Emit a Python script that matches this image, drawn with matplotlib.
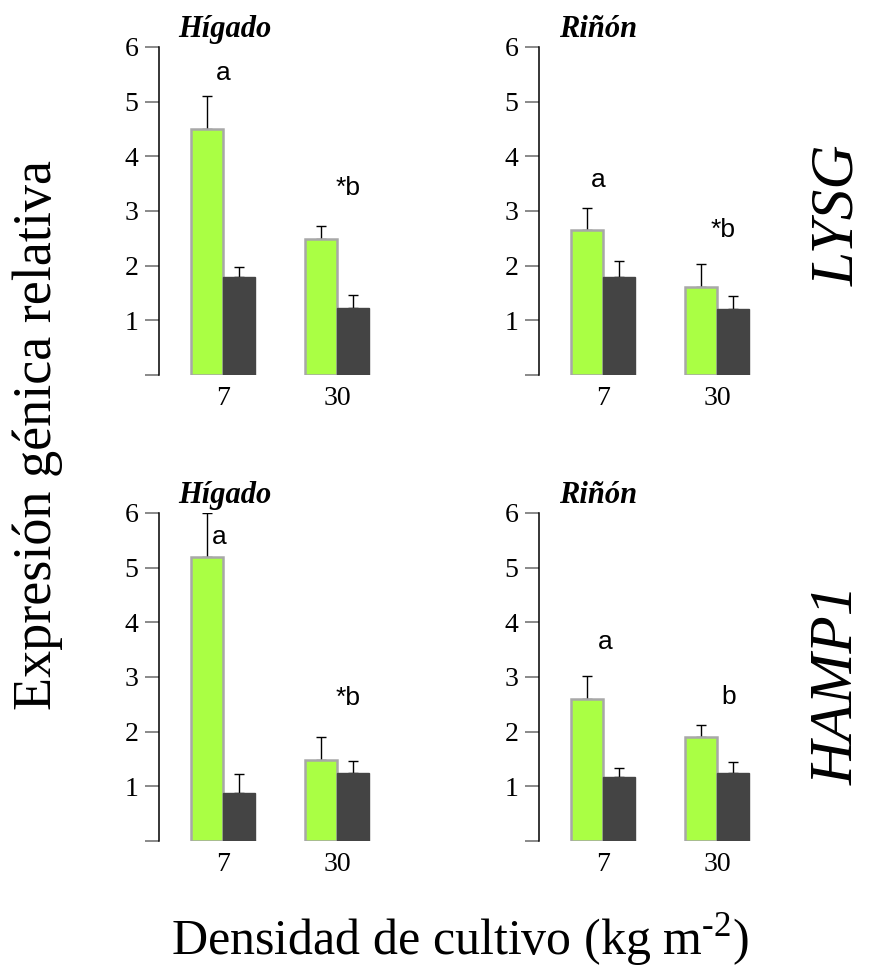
import numpy as np
import matplotlib.pyplot as plt

plt.rcParams["mathtext.fontset"] = "custom"
plt.rcParams["mathtext.rm"] = "Liberation Serif"

densities = ["7", "30"]
genes = ["LYSG", "HAMP1"]
tissues = ["Hígado", "Riñón"]

# values read per panel: (gene, tissue) -> [density 7, density 30]
green_vals = {("LYSG", "Hígado"): [4.50, 2.48], ("LYSG", "Riñón"): [2.66, 1.61],
              ("HAMP1", "Hígado"): [5.20, 1.48], ("HAMP1", "Riñón"): [2.59, 1.90]}
green_err = {("LYSG", "Hígado"): [0.60, 0.24], ("LYSG", "Riñón"): [0.40, 0.42],
             ("HAMP1", "Hígado"): [0.80, 0.42], ("HAMP1", "Riñón"): [0.43, 0.22]}
dark_vals = {("LYSG", "Hígado"): [1.79, 1.23], ("LYSG", "Riñón"): [1.79, 1.21],
             ("HAMP1", "Hígado"): [0.88, 1.24], ("HAMP1", "Riñón"): [1.17, 1.24]}
dark_err = {("LYSG", "Hígado"): [0.18, 0.23], ("LYSG", "Riñón"): [0.29, 0.24],
            ("HAMP1", "Hígado"): [0.34, 0.22], ("HAMP1", "Riñón"): [0.16, 0.20]}
# significance letters: (text, x, y)
letters = {("LYSG", "Hígado"): [("a", 0.0, 5.52), ("*b", 1.1, 3.42)],
           ("LYSG", "Riñón"): [("a", -0.04, 3.56), ("*b", 1.05, 2.65)],
           ("HAMP1", "Hígado"): [("a", -0.03, 5.56), ("*b", 1.1, 2.61)],
           ("HAMP1", "Riñón"): [("a", 0.02, 3.64), ("b", 1.1, 2.63)]}

W, H = 878, 975
fig = plt.figure(figsize=(W / 100, H / 100), dpi=100)

serif = "Liberation Serif"
green = "#aaff44"
dark = "#444444"
x = np.arange(len(densities))
bw = 0.28

lefts = [159, 539]
tops = [47, 513]
title_x = [0.30, 0.27]
for gi, gene in enumerate(genes):
    for ti, tissue in enumerate(tissues):
        key = (gene, tissue)
        l = lefts[ti] / W
        b = 1 - (tops[gi] + 328) / H
        ax = fig.add_axes([l, b, 218 / W, 328 / H])
        ax.bar(x - bw / 2, green_vals[key], bw, color=green, edgecolor="#a8a8a8",
               linewidth=1.8, zorder=2)
        ax.bar(x + bw / 2, dark_vals[key], bw, color=dark, edgecolor=dark,
               linewidth=1, zorder=2)
        ax.errorbar(x - bw / 2, green_vals[key], yerr=[np.zeros(2), green_err[key]],
                    fmt="none", ecolor="black", elinewidth=1, capsize=3.5, zorder=1)
        ax.errorbar(x + bw / 2, dark_vals[key], yerr=[np.zeros(2), dark_err[key]],
                    fmt="none", ecolor="black", elinewidth=1, capsize=3.5, zorder=1)
        for txt, tx, ty in letters[key]:
            ax.text(tx, ty, txt, ha="center", va="center", fontsize=19,
                    family="Liberation Sans")
        ax.set_xlim(-0.56, 1.35)
        ax.set_ylim(0, 6)
        ax.set_yticks(range(7))
        ax.set_yticklabels([""] + [str(i) for i in range(1, 7)],
                           family=serif, fontsize=20)
        ax.set_xticks(x)
        ax.set_xticklabels(densities, family=serif, fontsize=20)
        ax.tick_params(axis="x", length=0, pad=8)
        ax.tick_params(axis="y", direction="out", length=10, width=1.3,
                       color="#808080", pad=5)
        for s in ["top", "right", "bottom"]:
            ax.spines[s].set_visible(False)
        ax.spines["left"].set_linewidth(1.1)
        ax.patch.set_visible(False)
        ax.text(title_x[ti], 1.03, tissue, transform=ax.transAxes,
                ha="center", va="baseline",
                family=serif, style="italic", weight="bold", fontsize=22)

fig.text(38 / W, 1 - 435 / H, "Expresión génica relativa", rotation=90,
         ha="center", va="center", family=serif, fontsize=39)
fig.text(460 / W, 1 - 940 / H, r"Densidad de cultivo (kg m$^{\text{-2}}$)",
         ha="center", va="center", family=serif, fontsize=36)
fig.text(838 / W, 1 - 215 / H, "LYSG", rotation=90, ha="center", va="center",
         family=serif, style="italic", fontsize=44)
fig.text(838 / W, 1 - 685 / H, "HAMP1", rotation=90, ha="center", va="center",
         family=serif, style="italic", fontsize=44)

fig.savefig("out.png", dpi=100)
